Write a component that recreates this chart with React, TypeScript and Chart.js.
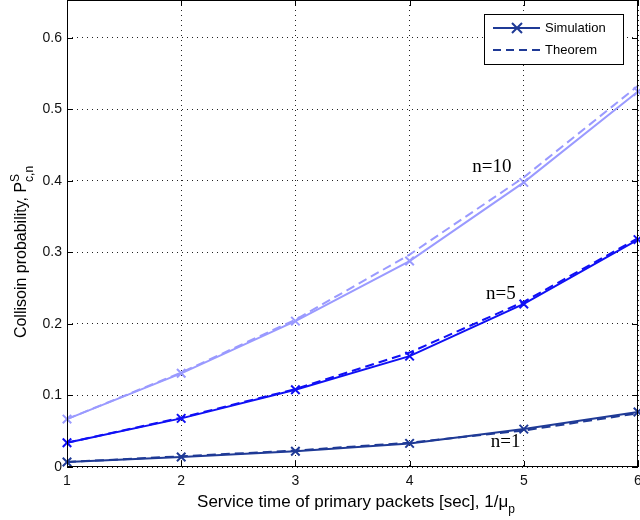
import React, { useEffect, useRef } from "react";
import { Chart, registerables } from "chart.js";

Chart.register(...registerables);

const xValues = [1, 2, 3, 4, 5, 6];
const n10Sim = [0.067, 0.131, 0.204, 0.288, 0.398, 0.525];
const n10Theory = [0.067, 0.132, 0.206, 0.297, 0.405, 0.533];
const n5Sim = [0.034, 0.068, 0.108, 0.155, 0.228, 0.318];
const n5Theory = [0.034, 0.069, 0.109, 0.16, 0.231, 0.32];
const n1Sim = [0.007, 0.014, 0.022, 0.033, 0.053, 0.077];
const n1Theory = [0.007, 0.015, 0.023, 0.034, 0.051, 0.075];
const yTicks = [0, 0.1, 0.2, 0.3, 0.4, 0.5, 0.6];
const labels = [
  { text: "n=10", x: 4.72, y: 0.42 },
  { text: "n=5", x: 4.8, y: 0.242 },
  { text: "n=1", x: 4.84, y: 0.035 },
];

const C10 = "#9a9aff";
const C5 = "#1010f5";
const C1 = "#1f3a96";
const SANS = "'Liberation Sans', Arial, sans-serif";

function pts(v: number[]) {
  return v.map((y, i) => ({ x: xValues[i], y }));
}

const overlay = {
  id: "overlay",
  afterDraw(chart: any) {
    const ctx = chart.ctx;
    const xs = chart.scales.x;
    const ys = chart.scales.y;
    const { left, right, top, bottom } = chart.chartArea;
    ctx.save();
    ctx.strokeStyle = "#000";
    ctx.lineWidth = 1;
    ctx.setLineDash([]);
    ctx.strokeRect(left + 0.5, top + 0.5, right - left - 1, bottom - top - 1);
    ctx.beginPath();
    xValues.forEach((v) => {
      const px = Math.round(xs.getPixelForValue(v)) + 0.5;
      ctx.moveTo(px, bottom);
      ctx.lineTo(px, bottom - 6);
      ctx.moveTo(px, top);
      ctx.lineTo(px, top + 6);
    });
    yTicks.forEach((v) => {
      const py = Math.round(ys.getPixelForValue(v)) + 0.5;
      ctx.moveTo(left, py);
      ctx.lineTo(left + 6, py);
      ctx.moveTo(right, py);
      ctx.lineTo(right - 6, py);
    });
    ctx.stroke();

    ctx.fillStyle = "#000";
    ctx.font = "19px 'Liberation Serif', 'Times New Roman', serif";
    ctx.textAlign = "center";
    ctx.textBaseline = "middle";
    labels.forEach((l) => {
      ctx.fillText(l.text, xs.getPixelForValue(l.x), ys.getPixelForValue(l.y));
    });

    const lx = 484, ly = 14, lw = 139, lh = 50;
    ctx.fillStyle = "#fff";
    ctx.fillRect(lx, ly, lw, lh);
    ctx.strokeStyle = "#000";
    ctx.lineWidth = 1;
    ctx.strokeRect(lx + 0.5, ly + 0.5, lw, lh);
    ctx.strokeStyle = C1;
    ctx.lineWidth = 2;
    ctx.beginPath();
    ctx.moveTo(493, 28);
    ctx.lineTo(540, 28);
    ctx.stroke();
    ctx.beginPath();
    ctx.moveTo(512, 23);
    ctx.lineTo(522, 33);
    ctx.moveTo(522, 23);
    ctx.lineTo(512, 33);
    ctx.stroke();
    ctx.setLineDash([8, 5]);
    ctx.beginPath();
    ctx.moveTo(493, 50);
    ctx.lineTo(540, 50);
    ctx.stroke();
    ctx.setLineDash([]);
    ctx.fillStyle = "#000";
    ctx.font = "13px " + SANS;
    ctx.textAlign = "left";
    ctx.fillText("Simulation", 545, 28);
    ctx.fillText("Theorem", 545, 50);

    ctx.textBaseline = "alphabetic";
    ctx.font = "17px " + SANS;
    const main = "Service time of primary packets [sec], 1/\u03bc";
    const wMain = ctx.measureText(main).width;
    ctx.font = "12px " + SANS;
    const wSub = ctx.measureText("p").width;
    const cx = 356;
    const sx = cx - (wMain + wSub) / 2;
    ctx.font = "17px " + SANS;
    ctx.fillText(main, sx, 507);
    ctx.font = "12px " + SANS;
    ctx.fillText("p", sx + wMain, 513);

    ctx.save();
    ctx.translate(26, 252);
    ctx.rotate(-Math.PI / 2);
    ctx.font = "16px " + SANS;
    const ym = "Collisoin probability, P";
    const wy = ctx.measureText(ym).width;
    ctx.font = "12px " + SANS;
    const wsup = ctx.measureText("c,n").width;
    const ystart = -(wy + wsup) / 2;
    ctx.font = "16px " + SANS;
    ctx.fillText(ym, ystart, 0);
    ctx.font = "12px " + SANS;
    ctx.fillText("S", ystart + wy, -7);
    ctx.fillText("c,n", ystart + wy, 7);
    ctx.restore();

    ctx.restore();
  },
};

export default function App() {
  const ref = useRef<HTMLCanvasElement>(null);
  useEffect(() => {
    document.body.style.margin = "0";
    const mk = (label: string, data: number[], color: string, sim: boolean) => ({
      label,
      data: pts(data),
      borderColor: color,
      backgroundColor: color,
      borderWidth: 2,
      borderDash: sim ? [] : [9, 5],
      pointStyle: "crossRot",
      pointRadius: sim ? 6 : 0,
      pointBorderWidth: 2,
      pointBorderColor: color,
      tension: 0,
      fill: false,
    });
    const fixPad = (s: any) => {
      s.paddingTop = 0;
      s.paddingRight = 0;
      s.paddingLeft = 0;
      s.paddingBottom = 0;
    };
    const chart = new Chart(ref.current!, {
      type: "line",
      data: {
        datasets: [
          mk("n10 sim", n10Sim, C10, true),
          mk("n10 th", n10Theory, C10, false),
          mk("n5 sim", n5Sim, C5, true),
          mk("n5 th", n5Theory, C5, false),
          mk("n1 sim", n1Sim, C1, true),
          mk("n1 th", n1Theory, C1, false),
        ] as any,
      },
      options: {
        animation: false,
        responsive: false,
        maintainAspectRatio: false,
        layout: { autoPadding: false, padding: { top: 0, right: 2, left: 0, bottom: 0 } },
        plugins: { legend: { display: false }, tooltip: { enabled: false } },
        clip: false as any,
        scales: {
          x: {
            type: "linear",
            min: 1,
            max: 6,
            afterFit: (s: any) => {
              s.height = 53;
              fixPad(s);
            },
            afterBuildTicks: (s: any) => {
              s.ticks = xValues.map((v) => ({ value: v }));
            },
            ticks: {
              color: "#111",
              font: { family: SANS, size: 14 },
              padding: 6,
              maxRotation: 0,
            },
            grid: { color: "#222", lineWidth: 1, drawTicks: false },
            border: { display: false, dash: [1, 4] } as any,
          },
          y: {
            type: "linear",
            min: 0,
            max: 0.653,
            afterFit: (s: any) => {
              s.width = 67;
              fixPad(s);
            },
            afterBuildTicks: (s: any) => {
              s.ticks = yTicks.map((v) => ({ value: v }));
            },
            ticks: {
              color: "#111",
              font: { family: SANS, size: 14 },
              padding: 5,
              callback: (v: any) => (v === 0 ? "0" : Number(v).toFixed(1)),
            },
            grid: { color: "#222", lineWidth: 1, drawTicks: false },
            border: { display: false, dash: [1, 4] } as any,
          },
        },
      } as any,
      plugins: [overlay],
    });
    return () => chart.destroy();
  }, []);
  return (
    <div style={{ position: "absolute", left: 0, top: 0, width: 640, height: 520 }}>
      <canvas ref={ref} width={640} height={520} style={{ width: 640, height: 520 }} />
    </div>
  );
}
